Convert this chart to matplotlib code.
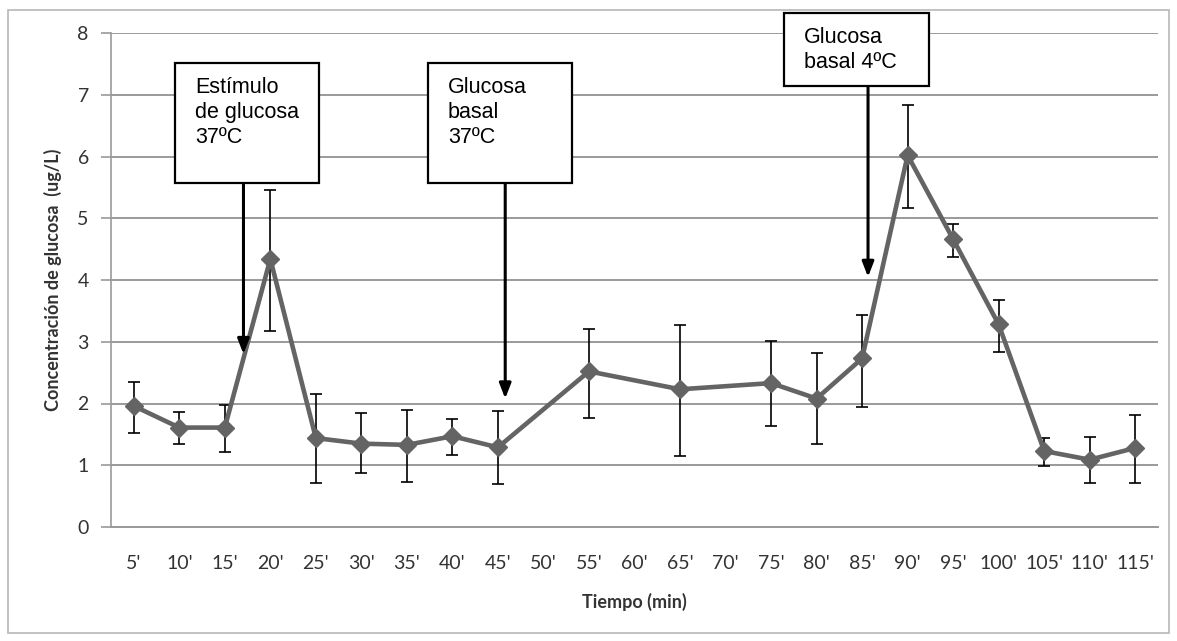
import matplotlib.pyplot as plt
from matplotlib.patches import Rectangle

plt.rcParams['font.family'] = ['Lato', 'DejaVu Sans']

# categories on the x axis (some have no measurement)
categories = ["5'", "10'", "15'", "20'", "25'", "30'", "35'", "40'", "45'", "50'", "55'", "60'",
              "65'", "70'", "75'", "80'", "85'", "90'", "95'", "100'", "105'", "110'", "115'"]
times = ["5'", "10'", "15'", "20'", "25'", "30'", "35'", "40'", "45'", "55'",
         "65'", "75'", "80'", "85'", "90'", "95'", "100'", "105'", "110'", "115'"]
conc = [1.96, 1.61, 1.61, 4.34, 1.44, 1.35, 1.33, 1.47, 1.29, 2.52,
        2.23, 2.33, 2.08, 2.73, 6.02, 4.66, 3.28, 1.23, 1.09, 1.28]
err_hi = [2.35, 1.87, 1.98, 5.46, 2.16, 1.85, 1.90, 1.75, 1.88, 3.21,
          3.27, 3.02, 2.81, 3.44, 6.84, 4.90, 3.68, 1.44, 1.45, 1.82]
err_lo = [1.52, 1.35, 1.21, 3.18, 0.71, 0.87, 0.73, 1.16, 0.70, 1.76,
          1.15, 1.64, 1.35, 1.95, 5.16, 4.38, 2.84, 0.99, 0.72, 0.72]

# annotations: text, category the arrow sits after, offset, arrow tip value
notes = ["Estímulo\nde glucosa\n37ºC", "Glucosa\nbasal\n37ºC", "Glucosa\nbasal 4ºC"]
note_cat = ["15'", "45'", "85'"]
note_off = [0.41, 0.16, 0.13]
note_tip = [2.80, 2.08, 4.05]

W, H = 1177, 641
fig = plt.figure(figsize=(W / 100, H / 100), dpi=100)
ax = fig.add_axes([111 / W, 1 - 527 / H, 1047 / W, 494 / H])

fig.patches.append(Rectangle((0.007, 0.012), 0.986, 0.973, transform=fig.transFigure,
                             fill=False, edgecolor='#b8b8b8', lw=1.2))

x = [categories.index(t) for t in times]
ax.errorbar(x, conc,
            yerr=[[c - l for c, l in zip(conc, err_lo)], [h - c for c, h in zip(conc, err_hi)]],
            fmt='none', ecolor='black', elinewidth=1.2, capsize=4.5, capthick=1.2, zorder=3)
ax.plot(x, conc, color='#646464', lw=3.3, marker='D', ms=9.5, mfc='#646464', mec='#646464', zorder=4)

ax.set_xlim(-0.5, len(categories) - 0.5)
ax.set_ylim(0, 8)
ax.set_yticks(range(0, 9))
ax.set_xticks(range(len(categories)))
ax.set_xticklabels(categories)
ax.grid(axis='y', color='#9a9a9a', lw=1.4)
ax.set_axisbelow(True)
for s in ['top', 'right']:
    ax.spines[s].set_visible(False)
ax.spines['bottom'].set_color('#9a9a9a')
ax.spines['bottom'].set_linewidth(1.4)
ax.spines['left'].set_color('#9a9a9a')
ax.spines['left'].set_linewidth(1.2)
ax.tick_params(axis='x', length=0, pad=20, labelsize=14, colors='#333333')
ax.tick_params(axis='y', length=7, width=1.2, color='#9a9a9a', pad=9, labelsize=14, labelcolor='#333333')

ax.set_xlabel('Tiempo (min)', fontsize=13, fontweight='bold', color='#333333', labelpad=15)
ax.set_ylabel('Concentración de glucosa  (ug/L)', fontsize=13, fontweight='bold', color='#333333', labelpad=11)

# annotation boxes with arrows (pixel boxes: left, top, right, bottom)
box_px = [(175, 63, 319, 183), (428, 63, 572, 183), (784, 13, 929, 86)]
for txt, cat, off, tip, (x0, y0, x1, y1) in zip(notes, note_cat, note_off, note_tip, box_px):
    fx0, fx1 = x0 / W, x1 / W
    fy0, fy1 = 1 - y1 / H, 1 - y0 / H
    fig.patches.append(Rectangle((fx0, fy0), fx1 - fx0, fy1 - fy0, transform=fig.transFigure,
                                 facecolor='white', edgecolor='black', lw=1.6, zorder=5))
    fig.text(fx0 + 20 / W, fy1 - 14 / H, txt, ha='left', va='top', fontsize=15.5,
             family='Liberation Sans', linespacing=1.25, zorder=6)
    xa = categories.index(cat) + off
    ax.annotate('', xy=(xa, tip), xycoords='data',
                xytext=(xa, fy0), textcoords=('data', 'figure fraction'),
                arrowprops=dict(arrowstyle='-|>,head_length=0.9,head_width=0.35', color='black',
                                lw=2.2, shrinkA=0, shrinkB=0), zorder=6)

fig.savefig('out.png', dpi=100)
